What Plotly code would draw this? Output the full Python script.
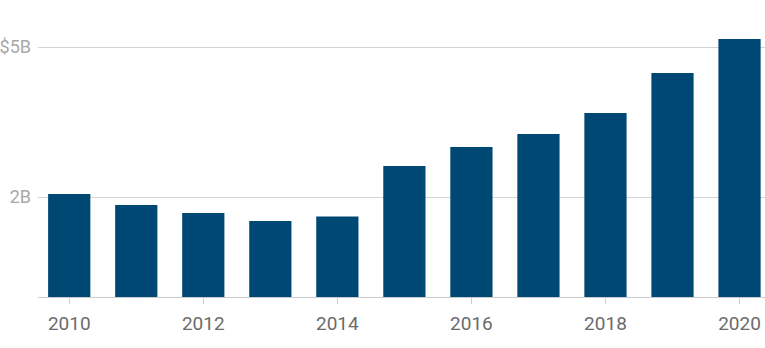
import plotly.graph_objects as go

years = [2010, 2011, 2012, 2013, 2014, 2015, 2016, 2017, 2018, 2019, 2020]
values_b = [2.06, 1.84, 1.68, 1.52, 1.61, 2.62, 3.00, 3.26, 3.68, 4.48, 5.16]
y_tickvals = [2, 5]
y_ticktext = ["2B", "$5B"]
x_tickvals = [2010, 2012, 2014, 2016, 2018, 2020]

fig = go.Figure(go.Bar(
    x=years, y=values_b, marker_color="#004874", marker_line_width=0, width=0.63,
))

fig.update_layout(
    width=765, height=348,
    margin=dict(l=38, r=0, t=0, b=51),
    plot_bgcolor="white", paper_bgcolor="white",
    showlegend=False,
    font=dict(family="Roboto, sans-serif"),
)
fig.update_xaxes(
    range=[2010 - 0.466, 2020 + 0.38],
    tickvals=x_tickvals, ticks="outside", ticklen=6, tickcolor="#cccccc",
    showline=True, linecolor="#cccccc", linewidth=1,
    showgrid=False, tickfont=dict(size=19, color="#6b6b6b"),
    ticklabelstandoff=3, automargin=False,
)
fig.update_yaxes(
    range=[0, 5.94], tickvals=y_tickvals, ticktext=y_ticktext,
    showgrid=True, gridcolor="#d3d3d3", gridwidth=1, zeroline=False,
    ticks="", ticklabelstandoff=6, automargin=False,
    tickfont=dict(size=18, color="#a8a8a8"),
)

fig.write_html("out.html")
